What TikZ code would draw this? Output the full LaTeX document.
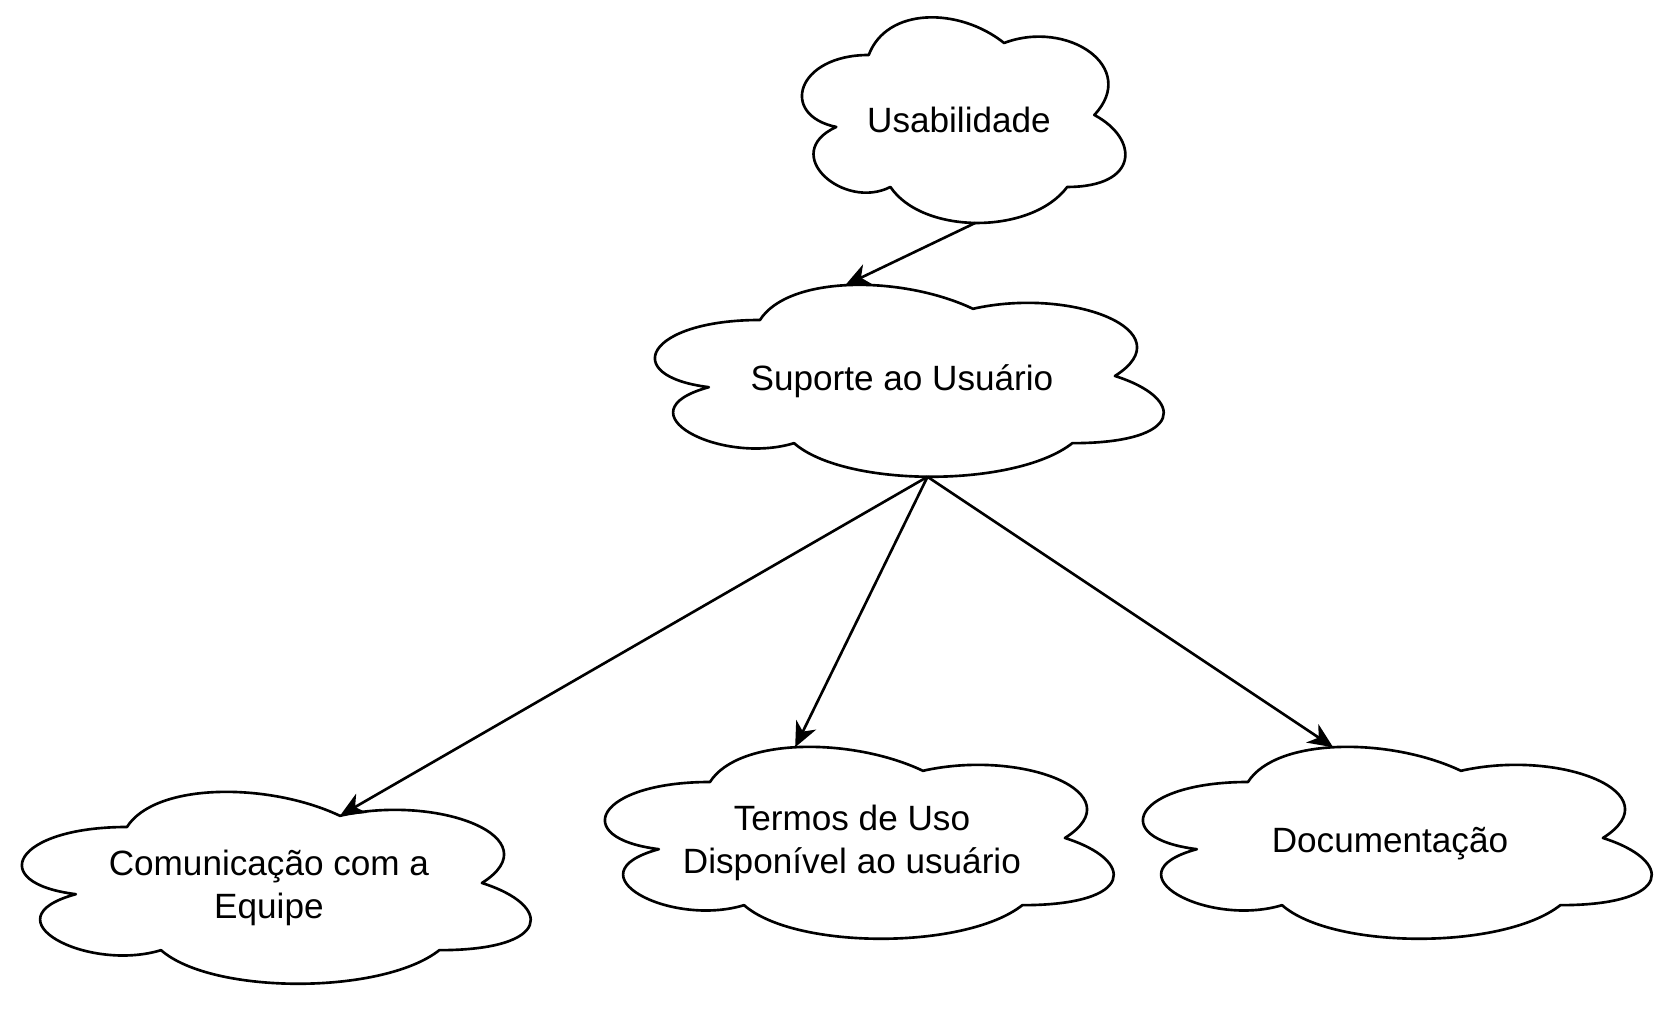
\documentclass[tikz,border=0pt]{standalone}
\usepackage{fontspec}
\setmainfont{Liberation Sans}
\usetikzlibrary{arrows.meta}

\tikzset{
    cloudline/.style={line width=1.5pt, line join=round},
    cloudtext/.style={align=center, inner sep=0pt, yshift=-3pt, font=\fontsize{20}{24.3}\selectfont},
    link/.style={line width=1.5pt, -{Stealth[length=0.5cm, width=0.44cm, inset=0.15cm]}},
    pics/cloud/.style={code={
        \draw[cloudline] (0.25,0.25) .. controls (0.05,0.25) and (0,0.5) .. (0.16,0.55)
            .. controls (0,0.66) and (0.18,0.9) .. (0.31,0.8)
            .. controls (0.4,1) and (0.7,1) .. (0.8,0.8)
            .. controls (1,0.8) and (1,0.6) .. (0.875,0.5)
            .. controls (1,0.3) and (0.8,0.1) .. (0.625,0.2)
            .. controls (0.5,0.05) and (0.3,0.05) .. (0.25,0.25) -- cycle;
        \coordinate (-top) at (0.4,0.095);
        \coordinate (-bottom) at (0.545,0.95);
        \coordinate (-notch) at (0.625,0.2);
        \node[cloudtext] (-text) at (0.5,0.5) {#1};
    }}
}

\begin{document}
\begin{tikzpicture}[x=0.02cm, y=-0.02cm]
    \useasboundingbox (0,0) rectangle (1680,1010);

    % clouds
    \path (778.5,-5) pic[x=7.22cm, y=-4.8cm] (usab) {cloud={Usabilidade}};
    \path (618,264) pic[x=11.36cm, y=-4.48cm] (sup) {cloud={Suporte ao Usuário}};
    \path (-15,771) pic[x=11.36cm, y=-4.48cm] (com) {cloud={Comunicação com a\\Equipe}};
    \path (568,726) pic[x=11.36cm, y=-4.48cm] (termos) {cloud={Termos de Uso\\Disponível ao usuário}};
    \path (1106,726) pic[x=11.36cm, y=-4.48cm] (docs) {cloud={Documentação}};

    % arrows
    \draw[link] (usab-bottom) -- (sup-top);
    \draw[link] (sup-bottom) -- (com-notch);
    \draw[link] (sup-bottom) -- (termos-top);
    \draw[link] (sup-bottom) -- (docs-top);
\end{tikzpicture}
\end{document}
